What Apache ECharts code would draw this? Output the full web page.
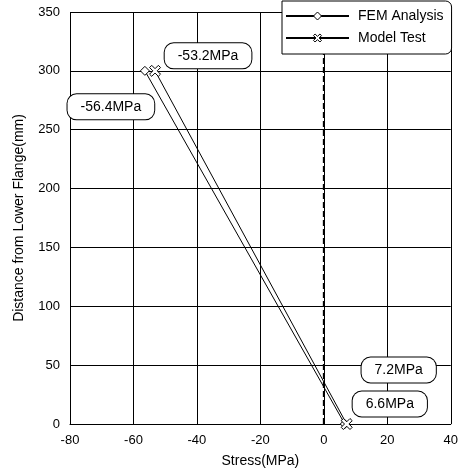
<!DOCTYPE html>
<html>
<head>
<meta charset="utf-8">
<script src="https://cdn.jsdelivr.net/npm/echarts@6/dist/echarts.min.js"></script>
<style>
  html, body { margin: 0; padding: 0; background: #fff; }
  #chart { width: 461px; height: 475px; }
</style>
</head>
<body>
<div id="chart"></div>
<script>
// data
var seriesNames = ['FEM Analysis', 'Model Test'];
var distance = [300, 0];
var femStress = [-56.4, 6.6];
var testStress = [-53.2, 7.2];
var zeroLine = [[0, 0], [0, 350]];

var crossPath = 'path://M2,0L5,3L8,0L10,2L7,5L10,8L8,10L5,7L2,10L0,8L3,5L0,2Z';

function boxLabel(text, dx, dy) {
    return {
        show: true,
        formatter: text,
        offset: [dx, dy],
        position: 'inside',
        color: '#000',
        fontFamily: 'Liberation Sans',
        fontSize: 14,
        backgroundColor: '#fff',
        borderColor: '#000',
        borderWidth: 1,
        borderRadius: 9,
        padding: [6, 13, 5, 13]
    };
}

function makeData(xs, labels) {
    return xs.map(function (x, i) {
        return { value: [x, distance[i]], label: labels[i] };
    });
}

var myChart = echarts.init(document.getElementById('chart'));

var hollow = { color: '#fff', borderColor: '#000', borderWidth: 1 };

var option = {
    animation: false,
    textStyle: { fontFamily: 'Liberation Sans' },
    grid: { left: 70, right: 8, top: 12, bottom: 51 },
    legend: {
        data: seriesNames.map(function (n) {
            return { name: n, itemStyle: hollow };
        }),
        orient: 'vertical',
        left: 282,
        top: 1,
        itemWidth: 63,
        itemHeight: 10,
        itemGap: 8,
        padding: [8, 8, 9, 3],
        borderColor: '#000',
        borderWidth: 1,
        borderRadius: [0, 6, 6, 0],
        backgroundColor: '#fff',
        textStyle: { color: '#000', fontSize: 14, fontFamily: 'Liberation Sans', padding: [0, 0, 0, 4] }
    },
    xAxis: {
        type: 'value',
        min: -80,
        max: 40,
        interval: 20,
        name: 'Stress(MPa)',
        nameLocation: 'middle',
        nameGap: 30,
        nameTextStyle: { color: '#000', fontSize: 14 },
        axisLine: { lineStyle: { color: '#000' } },
        axisTick: { show: false },
        axisLabel: { color: '#000', fontSize: 13, margin: 10 },
        splitLine: { lineStyle: { color: '#000', width: 1 } }
    },
    yAxis: {
        type: 'value',
        min: 0,
        max: 350,
        interval: 50,
        name: 'Distance from Lower Flange(mm)',
        nameLocation: 'middle',
        nameGap: 44,
        nameTextStyle: { color: '#000', fontSize: 14 },
        axisLine: { lineStyle: { color: '#000' } },
        axisTick: { show: false },
        axisLabel: { color: '#000', fontSize: 13, margin: 10 },
        splitLine: { lineStyle: { color: '#000', width: 1 } }
    },
    series: [
        {
            name: 'FEM Analysis',
            type: 'line',
            symbol: 'diamond',
            symbolSize: 9,
            itemStyle: hollow,
            lineStyle: { color: '#000', width: 1 },
            z: 3,
            data: makeData(femStress, [
                boxLabel('-56.4MPa', -34, 36),
                boxLabel('6.6MPa', 45, -20)
            ])
        },
        {
            name: 'Model Test',
            type: 'line',
            symbol: crossPath,
            symbolSize: 11,
            itemStyle: hollow,
            lineStyle: { color: '#000', width: 1 },
            z: 3,
            data: makeData(testStress, [
                boxLabel('-53.2MPa', 53, -15),
                boxLabel('7.2MPa', 52, -54)
            ])
        },
        {
            name: 'zero',
            type: 'line',
            symbol: 'none',
            silent: true,
            lineStyle: { color: '#000', width: 2, type: [6, 3] },
            z: 2,
            data: zeroLine
        }
    ]
};

myChart.setOption(option);
</script>
</body>
</html>
